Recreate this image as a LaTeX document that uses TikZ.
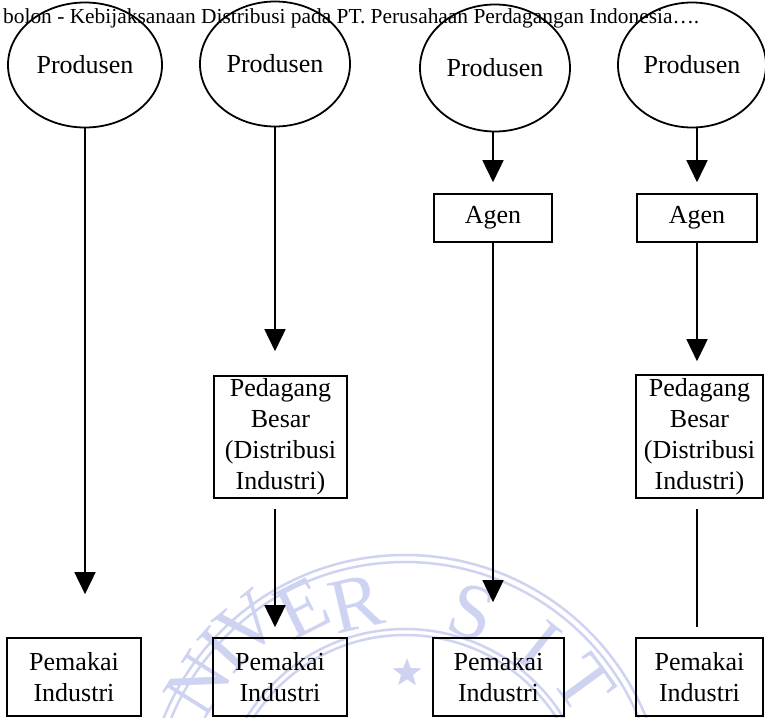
\documentclass[tikz,border=0pt]{standalone}
\usepackage{fontspec}
\setmainfont{Liberation Serif}
\usetikzlibrary{arrows.meta,shapes.geometric,calc}
\definecolor{wm}{RGB}{206,211,241}
\begin{document}
\begin{tikzpicture}[x=1pt,y=-1pt,
  lbl/.style={font=\fontsize{26}{31}\selectfont, align=center},
  prod/.style={ellipse, draw, line width=1.8pt, inner sep=0pt, lbl},
  box/.style={rectangle, draw, line width=1.6pt, inner sep=0pt, lbl},
  conn/.style={line width=1.6pt},
  arr/.style={conn, -{Triangle[length=22pt,width=21pt]}},
  wmline/.style={draw=wm, line width=2.5pt},
  wmletter/.style={text=wm, font=\fontsize{78}{78}\selectfont, inner sep=0pt}]
\useasboundingbox (0,0) rectangle (765,717);
% watermark seal
\begin{scope}
\clip (0,0) rectangle (765,717);
\coordinate (sc) at (405,815);
\draw[wmline] (sc) circle[radius=260pt];
\draw[wmline] (sc) circle[radius=253pt];
\draw[wmline] (sc) circle[radius=186pt];
\draw[wmline] (sc) circle[radius=180pt];
\foreach \l/\px/\py/\rot [count=\i] in {N/198/684/57.7, I/222/650/47.9, V/248/624/39.4, E/302/608/26.5, R/356/604/13.1, S/472/612/-18.3, I/540/646/-38.6, T/584/684/-53.8} {
  \node[wmletter, rotate=\rot] (wl\i) at (\px,\py) {\l};
}
\node[star, star points=5, star point ratio=2.4, fill=wm, minimum size=30pt, inner sep=0pt] (wstar) at (407,673) {};
\end{scope}
% header
\node[anchor=base west, inner sep=0pt, font=\fontsize{21.4}{26}\selectfont] (title) at (3,24)
  {bolon - Kebijaksanaan Distribusi pada PT. Perusahaan Perdagangan Indonesia….};
% producers
\node[prod, minimum width=154pt, minimum height=125pt] (e1) at (85,65) {Produsen};
\node[prod, minimum width=150pt, minimum height=125pt] (e2) at (275,64) {Produsen};
\node[prod, minimum width=150pt, minimum height=127pt] (e3) at (495,68) {Produsen};
\node[prod, minimum width=148pt, minimum height=125pt] (e4) at (692,65) {Produsen};
% agents
\node[box, minimum width=118pt, minimum height=48pt] (a3) at (493,218) {Agen};
\node[box, minimum width=120pt, minimum height=48pt] (a4) at (697,218) {Agen};
% wholesalers
\node[box, minimum width=133pt, minimum height=122pt] (b2) at (280.5,437) {Pedagang\\Besar\\(Distribusi\\Industri)};
\node[box, minimum width=127pt, minimum height=123pt] (b4) at (699.5,436.5) {Pedagang\\Besar\\(Distribusi\\Industri)};
% users
\node[box, minimum width=134pt, minimum height=78pt] (p1) at (74,677) {Pemakai\\Industri};
\node[box, minimum width=134pt, minimum height=78pt] (p2) at (280,677) {Pemakai\\Industri};
\node[box, minimum width=131pt, minimum height=78pt] (p3) at (498.5,677) {Pemakai\\Industri};
\node[box, minimum width=127pt, minimum height=78pt] (p4) at (699.5,677) {Pemakai\\Industri};
% connectors
\draw[arr, shorten >=43pt] (e1.south) -- (e1.south |- p1.north);
\draw[arr, shorten >=24pt] (e2.south) -- (e2.south |- b2.north);
\draw[arr, shorten <=10pt, shorten >=10pt] (e2.south |- b2.south) -- (e2.south |- p2.north);
\draw[arr, shorten >=11pt] (a3.north |- e3.south) -- (a3.north);
\draw[arr, shorten >=35pt] (a3.south) -- (a3.south |- p3.north);
\draw[arr, shorten >=11pt] (a4.north |- e4.south) -- (a4.north);
\draw[arr, shorten >=13pt] (a4.south) -- (a4.south |- b4.north);
\draw[conn, shorten <=10pt, shorten >=10pt] (a4.south |- b4.south) -- (a4.south |- p4.north);
\end{tikzpicture}
\end{document}
